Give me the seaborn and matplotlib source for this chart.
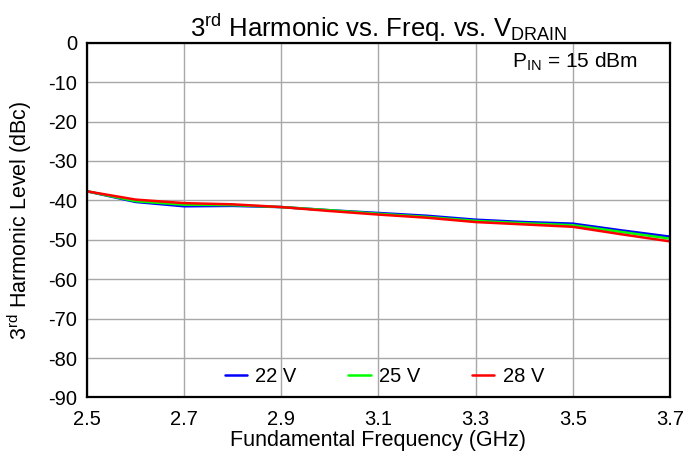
import numpy as np
import pandas as pd
import matplotlib
matplotlib.use("Agg")
import matplotlib.pyplot as plt
import seaborn as sns

# Fundamental frequency sweep (GHz)
freq = [2.5, 2.6, 2.7, 2.8, 2.9, 3.0, 3.1, 3.2, 3.3, 3.4, 3.5, 3.6, 3.7]

# 3rd harmonic level (dBc) per drain voltage
h3_22v = [-37.7, -40.4, -41.5, -41.4, -41.7, -42.5, -43.2, -43.9, -44.9, -45.5, -45.9, -47.6, -49.2]
h3_25v = [-37.7, -40.2, -41.1, -41.2, -41.7, -42.5, -43.4, -44.2, -45.2, -45.8, -46.3, -48.0, -49.7]
h3_28v = [-37.7, -39.8, -40.7, -41.0, -41.7, -42.7, -43.6, -44.4, -45.5, -46.1, -46.7, -48.6, -50.4]

series_names = ["22 V", "25 V", "28 V"]
series_colors = ["#0000ff", "#00ff00", "#ff0000"]

x_ticks = [2.5, 2.7, 2.9, 3.1, 3.3, 3.5, 3.7]
y_ticks = [0, -10, -20, -30, -40, -50, -60, -70, -80, -90]

df = pd.DataFrame({
    "freq": freq * 3,
    "level": h3_22v + h3_25v + h3_28v,
    "vdrain": [series_names[0]] * len(freq) + [series_names[1]] * len(freq) + [series_names[2]] * len(freq),
})

sns.set_theme(style="white")
plt.rcParams.update({
    "font.family": ["Liberation Sans", "DejaVu Sans"],
    "mathtext.fontset": "custom",
    "mathtext.rm": "Liberation Sans",
    "mathtext.it": "Liberation Sans:italic",
    "mathtext.bf": "Liberation Sans:bold",
    "text.color": "black",
    "axes.labelcolor": "black",
    "xtick.labelcolor": "black",
    "ytick.labelcolor": "black",
})

fig = plt.figure(figsize=(7.0, 4.63), dpi=100)
ax = fig.add_axes([0.1243, 0.1415, 0.957 - 0.1243, 0.9078 - 0.1415])

sns.lineplot(data=df, x="freq", y="level", hue="vdrain", hue_order=series_names,
             palette=series_colors, linewidth=1.8, ax=ax)

ax.set_xlim(2.5, 3.7)
ax.set_ylim(-90, 0)
ax.set_xticks(x_ticks)
ax.set_yticks(y_ticks)
ax.set_xticklabels([f"{t:.1f}" for t in x_ticks], fontsize=14.5)
ax.set_yticklabels([str(t) for t in y_ticks], fontsize=14.5)
ax.tick_params(axis="x", direction="in", length=3, color="#a0a0a0", pad=9, labelcolor="black")
ax.tick_params(axis="y", length=0, pad=7, labelcolor="black")

ax.grid(True, color="#a8a8a8", linewidth=1.0)
for side in ["left", "right", "top", "bottom"]:
    ax.spines[side].set_color("black")
    ax.spines[side].set_linewidth(1.6)

ax.set_xlabel("Fundamental Frequency (GHz)", fontsize=15.5, labelpad=1, color="black")
ax.set_ylabel(r"3$^{\rm rd}$ Harmonic Level (dBc)", fontsize=15.5, labelpad=10, color="black")
ax.set_title(r"3$^{\rm rd}$ Harmonic vs. Freq. vs. V$_{\rm DRAIN}$", fontsize=18.5, pad=4, color="black")

ax.text(0.945, 0.946, r"P$_{\rm IN}$ = 15 dBm", transform=ax.transAxes,
        ha="right", va="center", fontsize=15, color="black")

leg = ax.legend(loc="center", bbox_to_anchor=(0.51, 0.058), ncol=3, frameon=False,
                fontsize=14.5, handlelength=1.1, handletextpad=0.4, columnspacing=2.6,
                borderpad=0, borderaxespad=0)
for text in leg.get_texts():
    text.set_color("black")
for line in leg.get_lines():
    line.set_linewidth(1.8)

fig.savefig("out.png", dpi=100)
